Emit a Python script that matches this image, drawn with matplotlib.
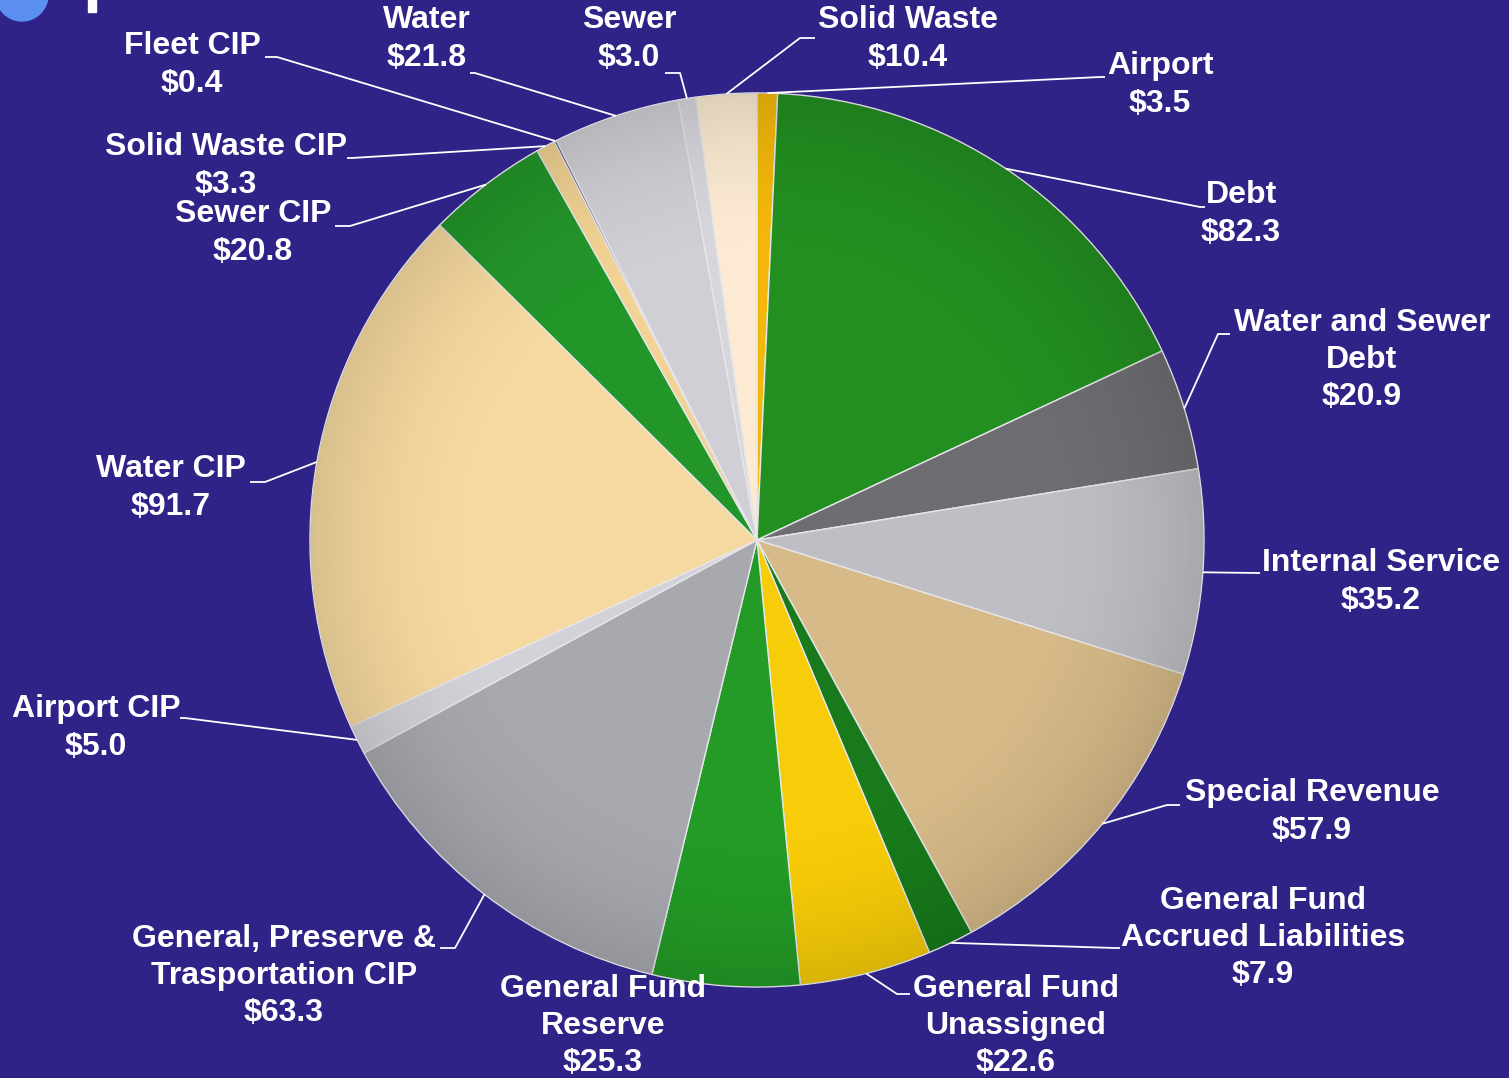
import matplotlib.pyplot as plt
import matplotlib.patches as mpatches
import numpy as np

plt.rcParams['font.family'] = ['Liberation Sans', 'DejaVu Sans']

# ---- data (clockwise from 12 o'clock) ----
labels = ['Airport\n$3.5', 'Debt\n$82.3', 'Water and Sewer\nDebt\n$20.9',
          'Internal Service\n$35.2', 'Special Revenue\n$57.9',
          'General Fund\nAccrued Liabilities\n$7.9', 'General Fund\nUnassigned\n$22.6',
          'General Fund\nReserve\n$25.3', 'General, Preserve &\nTrasportation CIP\n$63.3',
          'Airport CIP\n$5.0', 'Water CIP\n$91.7', 'Sewer CIP\n$20.8',
          'Solid Waste CIP\n$3.3', 'Fleet CIP\n$0.4', 'Water\n$21.8', 'Sewer\n$3.0',
          'Solid Waste\n$10.4']
values = [3.5, 82.3, 20.9, 35.2, 57.9, 7.9, 22.6, 25.3, 63.3, 5.0, 91.7, 20.8,
          3.3, 0.4, 21.8, 3.0, 10.4]
colors = ['#F2B80A', '#238F21', '#6E6E72', '#BEBEC4', '#D6BA88', '#187A1B',
          '#F7CC08', '#239B26', '#A7A9AF', '#D2D2D8', '#F6D9A0', '#23962A',
          '#F2D393', '#3A3A70', '#CFCFD5', '#D6D6DC', '#FCEBD2']

# label text centre (px, from top-left) and elbow point of the leader
label_pos = [(1160, 85), (1241, 214), (1362, 360), (1381, 582), (1312, 812),
             (1263, 938), (1016, 1026), (603, 1026), (284, 976), (96, 728),
             (171, 488), (253, 233), (226, 166), (192, 65), (427, 39),
             (629, 39), (908, 39)]
elbows = [(1100, 77), (1200, 207), (1218, 334), (1258, 573), (1167, 805),
          (1115, 948), (897, 994), None, (455, 948), (185, 718), (265, 482),
          (350, 226), (352, 158), (277, 57), (475, 73), (680, 73), (800, 38)]
ends = [(1105, 77), (1205, 207), (1230, 334), (1260, 573), (1180, 805),
        (1120, 948), (910, 994), None, (440, 948), (180, 718), (250, 482),
        (335, 226), (347, 158), (265, 57), (470, 73), (665, 73), (815, 38)]

W, H = 1509, 1078
bg = '#2F2388'
fig = plt.figure(figsize=(W / 100, H / 100), dpi=100, facecolor=bg)
ax = fig.add_axes([0, 0, 1, 1])
ax.set_facecolor(bg)

cx, cy, r = 757, H - 540, 447

wedges, _ = ax.pie(values, colors=colors, startangle=90, counterclock=False,
                   center=(cx, cy), radius=r, frame=True,
                   wedgeprops=dict(edgecolor='#E6E6EA', linewidth=1.0))
ax.set_xlim(0, W)
ax.set_ylim(0, H)
ax.set_aspect('equal')
ax.axis('off')

# soft shading to mimic the bevelled 3D look
yy, xx = np.mgrid[-1:1:400j, -1:1:400j]
rr = np.sqrt(xx ** 2 + yy ** 2)
shade = np.clip((rr - 0.6) / 0.4, 0, 1) ** 2
img = ax.imshow(np.dstack([np.zeros_like(shade)] * 3 + [shade * 0.12]),
                extent=(cx - r, cx + r, cy - r, cy + r), zorder=3)
img.set_clip_path(mpatches.Circle((cx, cy), r, transform=ax.transData))

for w, lab, pos, el, en in zip(wedges, labels, label_pos, elbows, ends):
    ang = np.deg2rad((w.theta1 + w.theta2) / 2)
    sx, sy = cx + r * np.cos(ang), cy + r * np.sin(ang)
    if el is not None:
        ax.plot([sx, el[0], en[0]], [sy, H - el[1], H - en[1]], color='white',
                lw=1.3, zorder=4, solid_capstyle='butt')
    ax.text(pos[0], H - pos[1], lab, color='white', fontsize=23, fontweight='bold',
            ha='center', va='center', linespacing=1.32, zorder=5)

# corner decoration of the slide
ax.add_patch(mpatches.Circle((22, H + 5), 26, color='#5B8FF0', clip_on=False, zorder=6))
ax.add_patch(mpatches.Rectangle((88, H - 12), 8, 12, color='white', zorder=6))

fig.savefig('out.png', dpi=100, facecolor=bg)
